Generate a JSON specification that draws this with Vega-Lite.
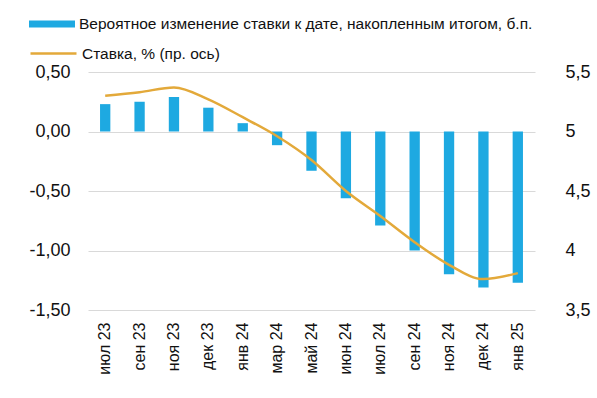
{
  "$schema": "https://vega.github.io/schema/vega-lite/v6.json",
  "width": 447,
  "height": 238,
  "autosize": {"type": "none"},
  "padding": {"left": 88, "top": 72, "right": 62, "bottom": 88},
  "background": "white",
  "config": {
    "view": {"stroke": null},
    "font": "Liberation Sans",
    "locale": {"number": {"decimal": ",", "thousands": " ", "grouping": [3], "currency": ["", ""], "minus": "-"}},
    "axis": {"labelFont": "Liberation Sans", "labelColor": "#111111", "domain": false, "ticks": false, "title": null}
  },
  "data": {"values": [
    {"m": "июл 23", "chg": 0.23, "rate": 5.30},
    {"m": "сен 23", "chg": 0.25, "rate": 5.33},
    {"m": "ноя 23", "chg": 0.29, "rate": 5.37},
    {"m": "дек 23", "chg": 0.20, "rate": 5.27},
    {"m": "янв 24", "chg": 0.07, "rate": 5.12},
    {"m": "мар 24", "chg": -0.115, "rate": 4.96},
    {"m": "май 24", "chg": -0.33, "rate": 4.76},
    {"m": "июн 24", "chg": -0.56, "rate": 4.50},
    {"m": "июл 24", "chg": -0.79, "rate": 4.29},
    {"m": "сен 24", "chg": -1.00, "rate": 4.07},
    {"m": "ноя 24", "chg": -1.20, "rate": 3.88},
    {"m": "дек 24", "chg": -1.31, "rate": 3.76},
    {"m": "янв 25", "chg": -1.27, "rate": 3.81}
  ]},
  "encoding": {
    "x": {
      "field": "m", "type": "nominal", "sort": null,
      "scale": {"paddingInner": 0.7, "paddingOuter": 0.35},
      "axis": {"labelAngle": -90, "labelFontSize": 16, "labelPadding": 12, "grid": false}
    }
  },
  "layer": [
    {
      "mark": {"type": "bar", "color": "#1ea9e1"},
      "encoding": {
        "y": {
          "field": "chg", "type": "quantitative",
          "scale": {"domain": [-1.5, 0.5], "nice": false, "zero": false},
          "axis": {"values": [-1.5, -1, -0.5, 0, 0.5], "format": ".2f", "labelFontSize": 18, "labelPadding": 18, "grid": true, "gridColor": "#d9d9d9", "gridWidth": 1.2}
        },
        "fill": {
          "datum": "Вероятное изменение ставки к дате, накопленным итогом, б.п.",
          "type": "nominal",
          "scale": {"range": ["#1ea9e1"]},
          "legend": {
            "orient": "none", "legendX": -59, "legendY": -71, "title": null,
            "symbolType": "M-1,-0.15H1V0.15H-1Z", "symbolSize": 2116, "symbolStrokeWidth": 0,
            "labelFontSize": 15.5, "labelColor": "#111111", "labelOffset": 4, "labelLimit": 0
          }
        }
      }
    },
    {
      "mark": {"type": "line", "color": "#e3a93a", "strokeWidth": 2.5, "interpolate": "monotone"},
      "encoding": {
        "y": {
          "field": "rate", "type": "quantitative",
          "scale": {"domain": [3.5, 5.5], "nice": false, "zero": false},
          "axis": {"orient": "right", "values": [3.5, 4, 4.5, 5, 5.5], "format": ".1~f", "labelFontSize": 18, "labelPadding": 30, "grid": false}
        },
        "stroke": {
          "datum": "Ставка, % (пр. ось)",
          "type": "nominal",
          "scale": {"range": ["#e3a93a"]},
          "legend": {
            "orient": "none", "legendX": -59, "legendY": -43, "title": null,
            "symbolType": "stroke", "symbolSize": 2116, "symbolStrokeWidth": 2.5,
            "labelFontSize": 15.5, "labelColor": "#111111", "labelOffset": 4, "labelLimit": 0
          }
        }
      }
    }
  ],
  "resolve": {"scale": {"y": "independent"}}
}
